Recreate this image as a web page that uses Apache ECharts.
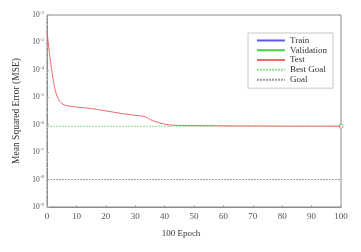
<!DOCTYPE html>
<html><head><meta charset="utf-8">
<script src="https://cdn.jsdelivr.net/npm/echarts@6/dist/echarts.min.js"></script>
<style>html,body{margin:0;padding:0;background:#fff}#c{width:361px;height:252px}</style>
</head><body><div id="c"></div>
<script>
const seriesNames = ['Train', 'Validation', 'Test', 'Best Goal', 'Goal'];
const testEpochs = [0, 0.5, 1, 1.5, 2, 2.5, 3, 4, 5, 6, 8, 10, 15, 20, 25, 30, 33, 36, 40, 43, 50, 60, 70, 80, 90, 100];
const testMSE = [2.8e-3, 8e-4, 3e-4, 1.2e-4, 5e-5, 2.5e-5, 1.5e-5, 8e-6, 6e-6, 5.2e-6, 4.7e-6, 4.4e-6, 3.9e-6, 3.2e-6, 2.6e-6, 2.2e-6, 2.0e-6, 1.4e-6, 1.05e-6, 9.6e-7, 9.3e-7, 9.1e-7, 9.0e-7, 8.9e-7, 8.85e-7, 8.8e-7];
const trainMSE = [];
const validationMSE = [];
const bestGoalEpochs = [0, 100];
const bestGoalValue = 8.8e-7;
const goalValue = 1e-8;
const xTicks = [0, 10, 20, 30, 40, 50, 60, 70, 80, 90, 100];
const yExponents = [-9, -8, -7, -6, -5, -4, -3, -2];

const FONT = 'Liberation Serif';
const chart = echarts.init(document.getElementById('c'), null, {renderer: 'canvas'});
const testData = testEpochs.map((e, i) => [e, testMSE[i]]);
const bestData = bestGoalEpochs.map((e, i) => i === bestGoalEpochs.length - 1
  ? {value: [e, bestGoalValue], symbol: 'circle', symbolSize: 4}
  : {value: [e, bestGoalValue], symbol: 'none'});
const goalData = bestGoalEpochs.map(e => [e, goalValue]);

chart.setOption({
  animation: false,
  grid: {left: 47, right: 20, top: 15, bottom: 45, show: true, borderColor: '#8a8a8a', borderWidth: 1},
  legend: {
    orient: 'vertical', left: 248, top: 33,
    padding: [3, 6, 4, 8], itemGap: 0.75,
    itemWidth: 28, itemHeight: 9,
    borderColor: '#c8c8c8', borderWidth: 1, backgroundColor: '#fff',
    itemStyle: {opacity: 0},
    textStyle: {fontFamily: FONT, fontSize: 9, color: '#333', lineHeight: 9},
    data: seriesNames
  },
  xAxis: {
    type: 'value', min: 0, max: 100, interval: 10,
    name: '100 Epoch', nameLocation: 'middle', nameGap: 22,
    nameTextStyle: {fontFamily: FONT, fontSize: 9, color: '#333', padding: [0, 26, 0, 0]},
    axisLine: {lineStyle: {color: '#8a8a8a', width: 1}},
    axisTick: {inside: true, length: 2, lineStyle: {color: '#aaa'}},
    axisLabel: {fontFamily: FONT, fontSize: 9, color: '#555', margin: 5,
      formatter: v => xTicks.includes(v) ? String(v) : ''},
    splitLine: {show: false}
  },
  yAxis: {
    type: 'log', logBase: 10, min: Math.pow(10, yExponents[0]), max: Math.pow(10, yExponents[yExponents.length - 1]),
    name: 'Mean Squared Error (MSE)', nameLocation: 'middle', nameGap: 25,
    nameTextStyle: {fontFamily: FONT, fontSize: 9.5, color: '#333'},
    axisLine: {show: true, lineStyle: {color: '#8a8a8a', width: 1}},
    axisTick: {inside: true, length: 2, lineStyle: {color: '#aaa'}},
    minorTick: {show: true, splitNumber: 5, length: 1, lineStyle: {color: '#bbb'}},
    axisLabel: {fontFamily: FONT, color: '#555', margin: 3,
      formatter: v => '{b|10}{s|' + Math.round(Math.log10(v)) + '}',
      rich: {b: {fontFamily: FONT, fontSize: 7.5, color: '#555'},
             s: {fontFamily: FONT, fontSize: 5, color: '#555', padding: [0, 0, 5, 0]}}},
    splitLine: {show: false}
  },
  series: [
    {name: 'Train', type: 'line', data: trainMSE, symbol: 'none', lineStyle: {color: '#5a5aee', width: 1}, itemStyle: {color: '#5a5aee'}},
    {name: 'Validation', type: 'line', data: validationMSE, symbol: 'none', lineStyle: {color: '#4ccc4c', width: 1}, itemStyle: {color: '#4ccc4c'}},
    {name: 'Best Goal', type: 'line', data: bestData, symbol: 'none', lineStyle: {color: '#8ee08e', width: 1, type: [2, 1]}, itemStyle: {color: '#fff', borderColor: '#6cc46c', borderWidth: 1}, z: 2},
    {name: 'Goal', type: 'line', data: goalData, symbol: 'none', lineStyle: {color: '#9a9a9a', width: 1, type: [2, 1]}, itemStyle: {color: '#444'}},
    {name: 'Test', type: 'line', data: testData, symbol: 'none', smooth: 0.3, lineStyle: {color: '#f06868', width: 1}, itemStyle: {color: '#f06868'}, z: 3}
  ]
});
</script></body></html>
